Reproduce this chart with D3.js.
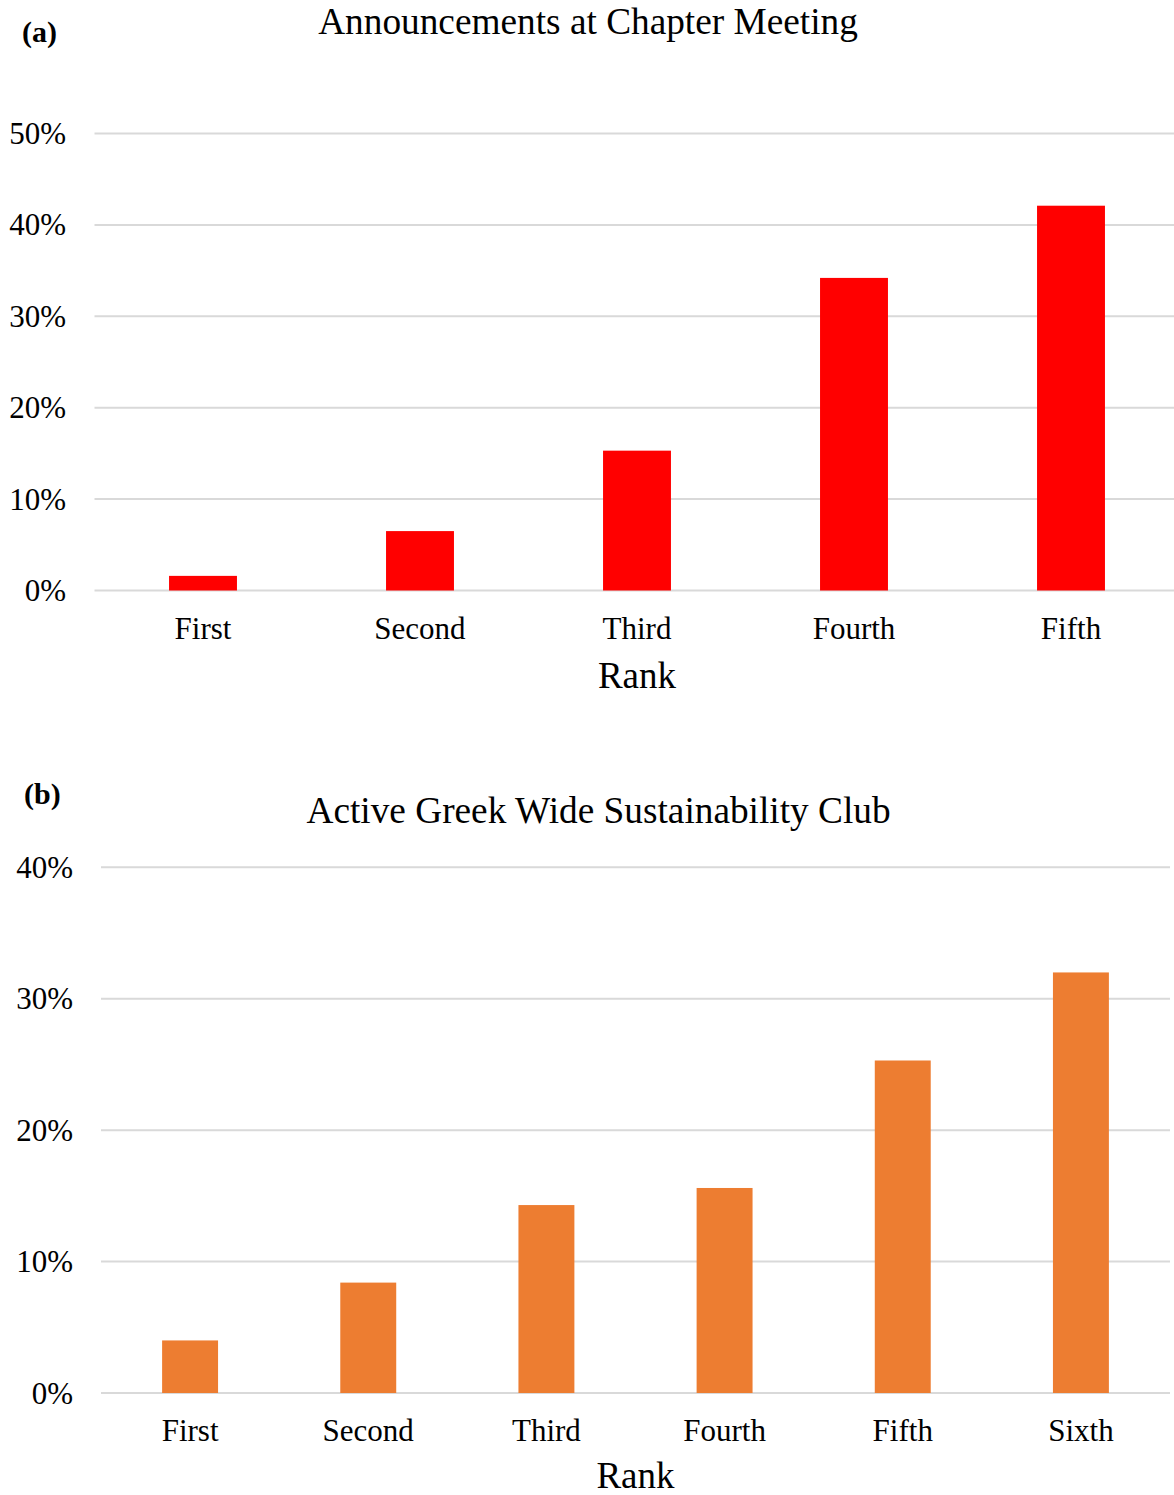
<!DOCTYPE html>
<html>
<head>
<meta charset="utf-8">
<script src="https://cdn.jsdelivr.net/npm/d3@7/dist/d3.min.js"></script>
<style>
  html, body { margin: 0; padding: 0; background: #fff; }
  svg { display: block; }
  text { font-family: "Liberation Serif", "Times New Roman", serif; fill: #000; }
</style>
</head>
<body>
<svg id="chart" width="1174" height="1495"></svg>
<script>
// Panel (a): ranking of chapter meeting announcements
const ranksA = ["First", "Second", "Third", "Fourth", "Fifth"];
const valuesA = [0.016, 0.065, 0.153, 0.342, 0.421];
const ticksA = [0, 0.1, 0.2, 0.3, 0.4, 0.5];

// Panel (b): ranking of an active Greek-wide sustainability club
const ranksB = ["First", "Second", "Third", "Fourth", "Fifth", "Sixth"];
const valuesB = [0.040, 0.084, 0.143, 0.156, 0.253, 0.320];
const ticksB = [0, 0.1, 0.2, 0.3, 0.4];

const svg = d3.select("#chart");
const pct = d3.format(".0%");

function panel(cfg) {
  const g = svg.append("g");
  const x = d3.scaleBand().domain(cfg.cats).range(cfg.xRange)
    .paddingInner(cfg.pad).paddingOuter(cfg.pad / 2);
  const y = d3.scaleLinear().domain(cfg.yDomain).range(cfg.yRange);

  // horizontal gridlines
  g.selectAll("line.grid").data(cfg.ticks).join("line")
    .attr("class", "grid")
    .attr("x1", cfg.xRange[0]).attr("x2", cfg.gridEnd)
    .attr("y1", d => y(d)).attr("y2", d => y(d))
    .attr("stroke", "#d9d9d9").attr("stroke-width", 2);

  // y tick labels
  g.selectAll("text.ytick").data(cfg.ticks).join("text")
    .attr("class", "ytick")
    .attr("x", cfg.tickRight).attr("y", d => y(d) + 10.5)
    .attr("text-anchor", "end").attr("font-size", 31)
    .text(d => pct(d));

  // bars
  g.selectAll("rect.bar").data(cfg.values).join("rect")
    .attr("class", "bar")
    .attr("x", (d, i) => x(cfg.cats[i]))
    .attr("width", x.bandwidth())
    .attr("y", d => y(d))
    .attr("height", d => y(0) - y(d))
    .attr("fill", cfg.color);

  // category labels
  g.selectAll("text.xcat").data(cfg.cats).join("text")
    .attr("class", "xcat")
    .attr("x", d => x(d) + x.bandwidth() / 2).attr("y", cfg.catY)
    .attr("text-anchor", "middle").attr("font-size", 31)
    .text(d => d);

  // axis title
  g.append("text")
    .attr("x", (cfg.xRange[0] + cfg.xRange[1]) / 2).attr("y", cfg.rankY)
    .attr("text-anchor", "middle").attr("font-size", 37)
    .text("Rank");

  // chart title
  g.append("text")
    .attr("x", cfg.titleX).attr("y", cfg.titleY)
    .attr("text-anchor", "middle").attr("font-size", 37.3)
    .text(cfg.title);

  // panel letter
  g.append("text")
    .attr("x", cfg.letterX).attr("y", cfg.letterY)
    .attr("font-size", 30).attr("font-weight", "bold")
    .text(cfg.letter);
}

panel({
  cats: ranksA, values: valuesA, ticks: ticksA,
  xRange: [94.5, 1179.5], pad: 0.687, gridEnd: 1179.5,
  yDomain: [0, 0.5], yRange: [590.5, 133.5],
  color: "#ff0000", tickRight: 66,
  catY: 639, rankY: 688,
  title: "Announcements at Chapter Meeting", titleX: 588, titleY: 34,
  letter: "(a)", letterX: 22, letterY: 42
});

panel({
  cats: ranksB, values: valuesB, ticks: ticksB,
  xRange: [101, 1170], pad: 0.686, gridEnd: 1170,
  yDomain: [0, 0.4], yRange: [1393, 867.3],
  color: "#ed7d31", tickRight: 73,
  catY: 1441, rankY: 1488,
  title: "Active Greek Wide Sustainability Club", titleX: 598.5, titleY: 823,
  letter: "(b)", letterX: 24, letterY: 804
});
</script>
</body>
</html>
